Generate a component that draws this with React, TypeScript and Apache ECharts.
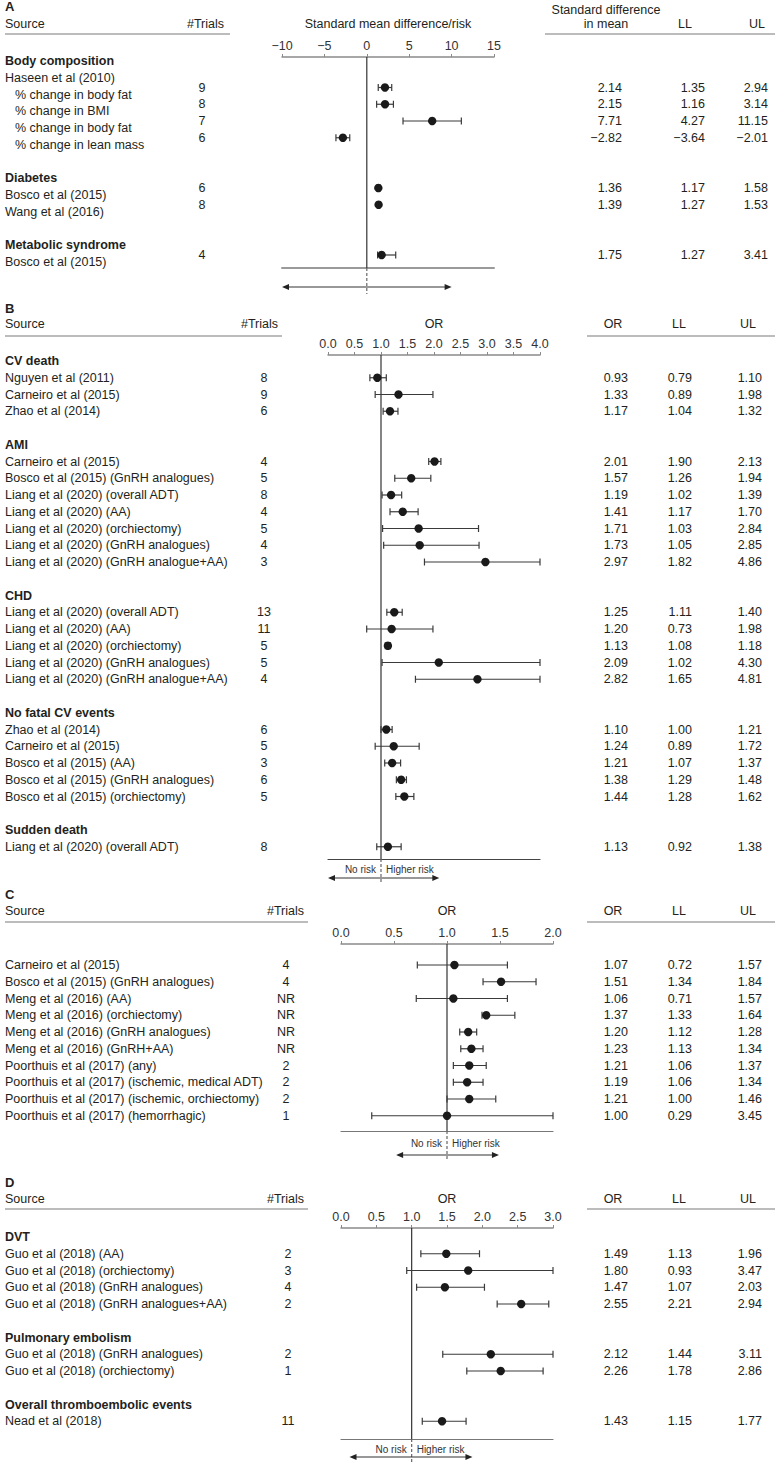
import React, { useEffect, useRef } from "react";
import * as echarts from "echarts";

// ---------- DATA ----------
// Panel A
const aSources = ["Body composition", "Haseen et al (2010)", "% change in body fat", "% change in BMI", "% change in body fat", "% change in lean mass", "", "Diabetes", "Bosco et al (2015)", "Wang et al (2016)", "", "Metabolic syndrome", "Bosco et al (2015)"];
const aKinds = ["h", "s", "i", "i", "i", "i", "b", "h", "s", "s", "b", "h", "s"];
const aTrials = [null, null, "9", "8", "7", "6", null, null, "6", "8", null, null, "4"];
const aEst = [null, null, 2.14, 2.15, 7.71, -2.82, null, null, 1.36, 1.39, null, null, 1.75];
const aLL = [null, null, 1.35, 1.16, 4.27, -3.64, null, null, 1.17, 1.27, null, null, 1.27];
const aUL = [null, null, 2.94, 3.14, 11.15, -2.01, null, null, 1.58, 1.53, null, null, 3.41];

// Panel B
const bSources = ["CV death", "Nguyen et al (2011)", "Carneiro et al (2015)", "Zhao et al (2014)", "",
  "AMI", "Carneiro et al (2015)", "Bosco et al (2015) (GnRH analogues)", "Liang et al (2020) (overall ADT)", "Liang et al (2020) (AA)", "Liang et al (2020) (orchiectomy)", "Liang et al (2020) (GnRH analogues)", "Liang et al (2020) (GnRH analogue+AA)", "",
  "CHD", "Liang et al (2020) (overall ADT)", "Liang et al (2020) (AA)", "Liang et al (2020) (orchiectomy)", "Liang et al (2020) (GnRH analogues)", "Liang et al (2020) (GnRH analogue+AA)", "",
  "No fatal CV events", "Zhao et al (2014)", "Carneiro et al (2015)", "Bosco et al (2015) (AA)", "Bosco et al (2015) (GnRH analogues)", "Bosco et al (2015) (orchiectomy)", "",
  "Sudden death", "Liang et al (2020) (overall ADT)"];
const bKinds = ["h", "s", "s", "s", "b", "h", "s", "s", "s", "s", "s", "s", "s", "b", "h", "s", "s", "s", "s", "s", "b", "h", "s", "s", "s", "s", "s", "b", "h", "s"];
const bTrials = [null, "8", "9", "6", null, null, "4", "5", "8", "4", "5", "4", "3", null, null, "13", "11", "5", "5", "4", null, null, "6", "5", "3", "6", "5", null, null, "8"];
const bEst = [null, 0.93, 1.33, 1.17, null, null, 2.01, 1.57, 1.19, 1.41, 1.71, 1.73, 2.97, null, null, 1.25, 1.20, 1.13, 2.09, 2.82, null, null, 1.10, 1.24, 1.21, 1.38, 1.44, null, null, 1.13];
const bLL = [null, 0.79, 0.89, 1.04, null, null, 1.90, 1.26, 1.02, 1.17, 1.03, 1.05, 1.82, null, null, 1.11, 0.73, 1.08, 1.02, 1.65, null, null, 1.00, 0.89, 1.07, 1.29, 1.28, null, null, 0.92];
const bUL = [null, 1.10, 1.98, 1.32, null, null, 2.13, 1.94, 1.39, 1.70, 2.84, 2.85, 4.86, null, null, 1.40, 1.98, 1.18, 4.30, 4.81, null, null, 1.21, 1.72, 1.37, 1.48, 1.62, null, null, 1.38];

// Panel C
const cSources = ["Carneiro et al (2015)", "Bosco et al (2015) (GnRH analogues)", "Meng et al (2016) (AA)", "Meng et al (2016) (orchiectomy)", "Meng et al (2016) (GnRH analogues)", "Meng et al (2016) (GnRH+AA)", "Poorthuis et al (2017) (any)", "Poorthuis et al (2017) (ischemic, medical ADT)", "Poorthuis et al (2017) (ischemic, orchiectomy)", "Poorthuis et al (2017) (hemorrhagic)"];
const cKinds = ["s", "s", "s", "s", "s", "s", "s", "s", "s", "s"];
const cTrials = ["4", "4", "NR", "NR", "NR", "NR", "2", "2", "2", "1"];
const cEst = [1.07, 1.51, 1.06, 1.37, 1.20, 1.23, 1.21, 1.19, 1.21, 1.00];
const cLL = [0.72, 1.34, 0.71, 1.33, 1.12, 1.13, 1.06, 1.06, 1.00, 0.29];
const cUL = [1.57, 1.84, 1.57, 1.64, 1.28, 1.34, 1.37, 1.34, 1.46, 3.45];

// Panel D
const dSources = ["DVT", "Guo et al (2018) (AA)", "Guo et al (2018) (orchiectomy)", "Guo et al (2018) (GnRH analogues)", "Guo et al (2018) (GnRH analogues+AA)", "", "Pulmonary embolism", "Guo et al (2018) (GnRH analogues)", "Guo et al (2018) (orchiectomy)", "", "Overall thromboembolic events", "Nead et al (2018)"];
const dKinds = ["h", "s", "s", "s", "s", "b", "h", "s", "s", "b", "h", "s"];
const dTrials = [null, "2", "3", "4", "2", null, null, "2", "1", null, null, "11"];
const dEst = [null, 1.49, 1.80, 1.47, 2.55, null, null, 2.12, 2.26, null, null, 1.43];
const dLL = [null, 1.13, 0.93, 1.07, 2.21, null, null, 1.44, 1.78, null, null, 1.15];
const dUL = [null, 1.96, 3.47, 2.03, 2.94, null, null, 3.11, 2.86, null, null, 1.77];

// ---------- LAYOUT ----------
const RH = 16.75;
const FONT = "'Liberation Sans', Arial, Helvetica, sans-serif";
const FS = 12.5;
const TXT = "#231f20";

const panels = [
  {
    letter: "A", sources: aSources, kinds: aKinds, trials: aTrials, est: aEst, ll: aLL, ul: aUL,
    midTitle: "Standard mean difference/risk", rightHead: ["in mean", "LL", "UL"], rightHead2: "Standard difference",
    letterY: 6, headY: 24, ulY: 34, axisY: 57, firstY: 61, bottomY: 268,
    left: 282, right: 494, min: -10, max: 15, interval: 5, ref: 0, arrow: [-10, 10],
    arrowDy: 19, dashDy: 26, textDy: null,
    srcUl: 230, trialsRight: 224, numX: 202, valRight: [622, 705, 768], headX: [606, 685, 757], rightUl: [545, 775],
    shift: -7, bottomColor: "#9a9a9a", bottomWidth: 2, dec: 0,
  },
  {
    letter: "B", sources: bSources, kinds: bKinds, trials: bTrials, est: bEst, ll: bLL, ul: bUL,
    midTitle: "OR", rightHead: ["OR", "LL", "UL"], rightHead2: null,
    letterY: 308, headY: 324, ulY: 336, axisY: 355, firstY: 361, bottomY: 859,
    left: 328, right: 540, min: 0, max: 4, interval: 0.5, ref: 1, arrow: [0, 2.1],
    arrowDy: 19, dashDy: 25, textDy: 10,
    srcUl: 282, trialsRight: 278, numX: 264, valRight: [628, 692, 762], headX: [613, 679, 748], rightUl: [587, 775],
    shift: 0, bottomColor: "#444", bottomWidth: 1.2, dec: 1,
  },
  {
    letter: "C", sources: cSources, kinds: cKinds, trials: cTrials, est: cEst, ll: cLL, ul: cUL,
    midTitle: "OR", rightHead: ["OR", "LL", "UL"], rightHead2: null,
    letterY: 894, headY: 911, ulY: 922, axisY: 944, firstY: 965, bottomY: 1131,
    left: 341, right: 553, min: 0, max: 2, interval: 0.5, ref: 1, arrow: [0.52, 1.49],
    arrowDy: 24, dashDy: 29, textDy: 12,
    srcUl: 308, trialsRight: 304, numX: 286, valRight: [628, 692, 762], headX: [613, 679, 748], rightUl: [587, 775],
    shift: 0, bottomColor: "#777", bottomWidth: 1.2, dec: 1,
  },
  {
    letter: "D", sources: dSources, kinds: dKinds, trials: dTrials, est: dEst, ll: dLL, ul: dUL,
    midTitle: "OR", rightHead: ["OR", "LL", "UL"], rightHead2: null,
    letterY: 1182, headY: 1199, ulY: 1209, axisY: 1228, firstY: 1237, bottomY: 1439,
    left: 341, right: 553, min: 0, max: 3, interval: 0.5, ref: 1, arrow: [0.12, 1.86],
    arrowDy: 18, dashDy: 24, textDy: 10,
    srcUl: 308, trialsRight: 304, numX: 288, valRight: [628, 692, 762], headX: [613, 679, 748], rightUl: [587, 775],
    shift: 0, bottomColor: "#777", bottomWidth: 1.2, dec: 1,
  },
];

const fmt = (v: number) => v.toFixed(2).replace("-", "\u2212");

function txt(text: string, x: number, y: number, align: string, opts: any = {}) {
  return {
    type: "text",
    x, y, silent: true,
    style: {
      text,
      fill: opts.fill || TXT,
      fontSize: opts.fontSize || FS,
      fontFamily: FONT,
      fontWeight: opts.bold ? "bold" : "normal",
      textAlign: align, align,
      textVerticalAlign: "middle", verticalAlign: "middle",
    },
  };
}
function hline(x1: number, x2: number, y: number, color = "#7a7a7a", w = 1.2) {
  return { type: "line", silent: true, shape: { x1, y1: y, x2, y2: y }, style: { stroke: color, lineWidth: w } };
}

function buildOption() {
  const grid: any[] = [];
  const xAxis: any[] = [];
  const yAxis: any[] = [];
  const series: any[] = [];
  const graphic: any[] = [];

  panels.forEach((p, i) => {
    const yMin = (p.axisY - p.firstY) / RH;
    const yMax = (p.bottomY - p.firstY) / RH;
    grid.push({ left: p.left, width: p.right - p.left, top: p.axisY, height: p.bottomY - p.axisY, containLabel: false });
    xAxis.push({
      type: "value", gridIndex: i, position: "top", min: p.min, max: p.max, interval: p.interval,
      axisLine: { show: true, onZero: false, lineStyle: { color: "#8a8a8a", width: 1.5 } },
      axisTick: { show: true, length: 3, lineStyle: { color: "#8a8a8a", width: 1 } },
      axisLabel: {
        show: true, margin: 5, fontSize: FS, fontFamily: FONT, color: "#333",
        formatter: (v: number) => (p.dec === 0 ? (v < 0 ? "\u2212" + Math.abs(v) : String(v)) : v.toFixed(1)),
      },
      splitLine: { show: false },
    });
    xAxis.push({
      type: "value", gridIndex: i, position: "bottom", min: p.min, max: p.max, interval: p.interval,
      axisLine: { show: true, onZero: false, lineStyle: { color: p.bottomColor, width: p.bottomWidth } },
      axisTick: { show: false }, axisLabel: { show: false }, splitLine: { show: false },
    });
    yAxis.push({ type: "value", gridIndex: i, inverse: true, min: yMin, max: yMax, show: false, splitLine: { show: false } });

    // decorations: reference line, dashed continuation, arrows, risk labels
    series.push({
      type: "custom", xAxisIndex: 2 * i, yAxisIndex: i, z: 1, silent: true, clip: false,
      data: [[p.ref, yMax]],
      renderItem: (params: any, api: any) => {
        const top = api.coord([p.ref, yMin]);
        const bot = api.coord([p.ref, yMax]);
        const rx = bot[0];
        const by = bot[1];
        const ay = by + p.arrowDy;
        const xl = api.coord([p.arrow[0], yMax])[0];
        const xr = api.coord([p.arrow[1], yMax])[0];
        const st = { stroke: "#333", lineWidth: 1.2 };
        const ch: any[] = [
          { type: "line", shape: { x1: rx, y1: top[1], x2: rx, y2: by }, style: { stroke: "#333", lineWidth: 1.2 } },
          { type: "line", shape: { x1: rx, y1: by, x2: rx, y2: by + p.dashDy }, style: { stroke: "#666", lineWidth: 1.2, lineDash: [3, 2] } },
          { type: "line", shape: { x1: xl + 3, y1: ay, x2: xr - 3, y2: ay }, style: st },
          { type: "polygon", shape: { points: [[xl, ay], [xl + 7, ay - 3], [xl + 7, ay + 3]] }, style: { fill: "#222" } },
          { type: "polygon", shape: { points: [[xr, ay], [xr - 7, ay - 3], [xr - 7, ay + 3]] }, style: { fill: "#222" } },
        ];
        if (p.textDy !== null) {
          ch.push({ type: "text", x: rx - 5, y: by + p.textDy, style: { text: "No risk", fill: "#333", fontSize: 10, fontFamily: FONT, align: "right", verticalAlign: "middle", textAlign: "right", textVerticalAlign: "middle" } });
          ch.push({ type: "text", x: rx + 5, y: by + p.textDy, style: { text: "Higher risk", fill: "#333", fontSize: 10, fontFamily: FONT, align: "left", verticalAlign: "middle", textAlign: "left", textVerticalAlign: "middle" } });
        }
        return { type: "group", children: ch };
      },
    });

    // estimates with confidence intervals
    const ciData: any[] = [];
    p.est.forEach((e: any, k: number) => {
      if (e !== null) ciData.push([e, p.ll[k], p.ul[k], k]);
    });
    series.push({
      type: "custom", xAxisIndex: 2 * i, yAxisIndex: i, z: 3, silent: true, clip: false,
      encode: { x: [0, 1, 2], y: 3 },
      data: ciData,
      renderItem: (params: any, api: any) => {
        const cl = (v: number) => Math.max(p.min, Math.min(p.max, v));
        const r = api.value(3);
        const pe = api.coord([cl(api.value(0)), r]);
        const y = pe[1] + p.shift;
        const xl = api.coord([cl(api.value(1)), r])[0];
        const xu = api.coord([cl(api.value(2)), r])[0];
        const ls = { stroke: "#3a3a3a", lineWidth: 1.2 };
        const cap = 3.5;
        return {
          type: "group",
          children: [
            { type: "line", shape: { x1: xl, y1: y, x2: xu, y2: y }, style: ls },
            { type: "line", shape: { x1: xl, y1: y - cap, x2: xl, y2: y + cap }, style: ls },
            { type: "line", shape: { x1: xu, y1: y - cap, x2: xu, y2: y + cap }, style: ls },
            { type: "circle", shape: { cx: pe[0], cy: y, r: 4.2 }, style: { fill: "#1a1a1a" } },
          ],
        };
      },
    });

    // ---- table texts ----
    graphic.push(txt(p.letter, 5, p.letterY, "left", { bold: true, fontSize: 13 }));
    graphic.push(txt("Source", 5, p.headY, "left"));
    graphic.push(txt("#Trials", p.trialsRight, p.headY, "right"));
    graphic.push(txt(p.midTitle, (p.left + p.right) / 2, p.headY, "center"));
    if (p.rightHead2) {
      graphic.push(txt(p.rightHead2, p.headX[0], p.headY - 14, "center"));
    }
    p.rightHead.forEach((h: string, j: number) => graphic.push(txt(h, p.headX[j], p.headY, "center")));
    graphic.push(hline(5, p.srcUl, p.ulY));
    graphic.push(hline(p.rightUl[0], p.rightUl[1], p.ulY));

    p.sources.forEach((s: string, k: number) => {
      const y = p.firstY + k * RH;
      const kind = p.kinds[k];
      if (kind === "b") return;
      graphic.push(txt(s, kind === "i" ? 15 : 5, y, "left", { bold: kind === "h" }));
      const my = y + p.shift;
      if (p.trials[k] !== null) graphic.push(txt(p.trials[k], p.numX, my, "center"));
      if (p.est[k] !== null) {
        graphic.push(txt(fmt(p.est[k]), p.valRight[0], my, "right"));
        graphic.push(txt(fmt(p.ll[k]), p.valRight[1], my, "right"));
        graphic.push(txt(fmt(p.ul[k]), p.valRight[2], my, "right"));
      }
    });
  });

  return { animation: false, backgroundColor: "#ffffff", grid, xAxis, yAxis, series, graphic };
}

export default function App() {
  const ref = useRef<HTMLDivElement>(null);
  useEffect(() => {
    if (!ref.current) return;
    const chart = echarts.init(ref.current, undefined, { renderer: "svg" });
    chart.setOption(buildOption() as any);
    return () => chart.dispose();
  }, []);
  return <div ref={ref} style={{ position: "absolute", left: 0, top: 0, width: 776, height: 1466, background: "#fff" }} />;
}
